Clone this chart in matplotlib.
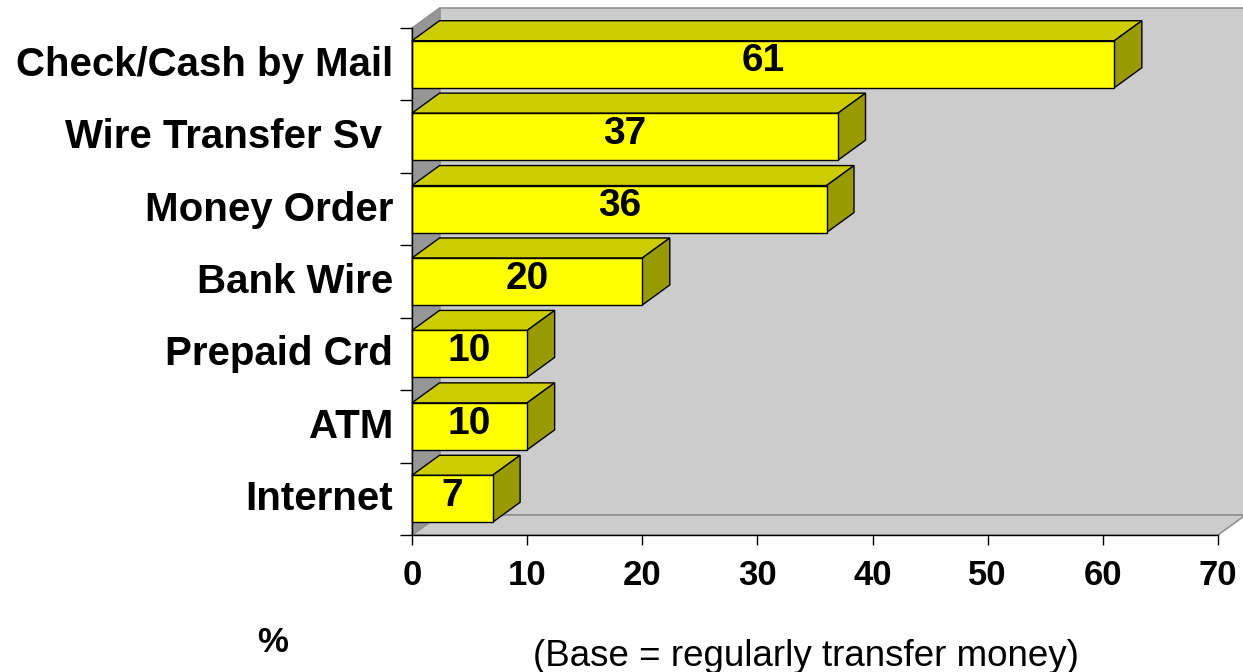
import matplotlib
matplotlib.use("Agg")
import matplotlib.pyplot as plt
from matplotlib.patches import Polygon, Rectangle
from matplotlib.transforms import ScaledTranslation

categories = ["Check/Cash by Mail", "Wire Transfer Sv ", "Money Order", "Bank Wire",
              "Prepaid Crd", "ATM", "Internet"]
values = [61, 37, 36, 20, 10, 10, 7]
xticks = [0, 10, 20, 30, 40, 50, 60, 70]

plt.rcParams['font.family'] = ['Liberation Sans', 'DejaVu Sans']

W, H, DPI = 12.43, 6.72, 100
fig = plt.figure(figsize=(W, H), dpi=DPI)
L, R, T, B = 412, 1218, 28, 535
ax = fig.add_axes([L / 1243, (672 - B) / 672, (R - L) / 1243, (B - T) / 672])
XMAX = 70
n = len(categories)
ax.set_xlim(0, XMAX)
ax.set_ylim(n, 0)

px_x = (R - L) / XMAX
px_y = (B - T) / n
DX = 27.5 / px_x
DY = 20 / px_y
HH = 47 / px_y / 2

wall = '#CCCCCC'
side = '#969696'
edge_g = '#909090'

# back wall
ax.add_patch(Polygon([(DX, -DY), (XMAX + DX, -DY), (XMAX + DX, n - DY), (DX, n - DY)],
                     closed=True, facecolor=wall, edgecolor=edge_g, lw=1.2,
                     clip_on=False, zorder=1))
# floor
ax.add_patch(Polygon([(0, n), (XMAX, n), (XMAX + DX, n - DY), (DX, n - DY)],
                     closed=True, facecolor=wall, edgecolor=edge_g, lw=1.2,
                     clip_on=False, zorder=1.1))
# left side wall
ax.add_patch(Polygon([(0, 0), (DX, -DY), (DX, n - DY), (0, n)],
                     closed=True, facecolor=side, edgecolor=edge_g, lw=1.0,
                     clip_on=False, zorder=1.2))

for i, v in enumerate(values):
    yc = i + 0.5
    y0 = yc - HH
    y1 = yc + HH
    ax.add_patch(Polygon([(0, y0), (v, y0), (v + DX, y0 - DY), (DX, y0 - DY)],
                         closed=True, facecolor='#CCCC00', edgecolor='black', lw=1.0,
                         clip_on=False, zorder=3))
    ax.add_patch(Polygon([(v, y0), (v, y1), (v + DX, y1 - DY), (v + DX, y0 - DY)],
                         closed=True, facecolor='#999900', edgecolor='black', lw=1.0,
                         clip_on=False, zorder=3))
    ax.add_patch(Rectangle((0, y0), v, y1 - y0, facecolor='#FFFF00', edgecolor='black',
                           lw=1.0, clip_on=False, zorder=4))
    ax.annotate(str(v), xy=(v / 2, yc), xytext=(0, 2), textcoords='offset points',
                ha='center', va='center', fontsize=28, fontweight='bold',
                color='black', zorder=5)

ax.set_facecolor('none')
for s in ['top', 'right']:
    ax.spines[s].set_visible(False)
for s in ['left', 'bottom']:
    ax.spines[s].set_color('black')
    ax.spines[s].set_linewidth(1.0)
    ax.spines[s].set_zorder(6)

ax.set_yticks([i + 0.5 for i in range(n)])
ax.set_yticklabels(categories, fontsize=29, fontweight='bold')
ax.set_yticks(range(n + 1), minor=True)
ax.tick_params(axis='y', which='major', length=0, pad=13.5)
ax.tick_params(axis='y', which='minor', length=9, width=1.0, color='black')
for lab in ax.get_yticklabels():
    lab.set_transform(lab.get_transform() + ScaledTranslation(0, 2.5 / 72, fig.dpi_scale_trans))

ax.set_xticks(xticks)
ax.set_xticklabels([str(t) for t in xticks], fontsize=25, fontweight='bold')
ax.tick_params(axis='x', which='major', length=7.5, width=1.0, pad=10, color='black')

fig.text(273 / 1243, 1 - 643 / 672, "%", ha='center', va='center', fontsize=25,
         fontweight='bold')
fig.text(806 / 1243, 1 - 656 / 672, "(Base = regularly transfer money)", ha='center',
         va='center', fontsize=26.5)

fig.savefig('out.png', dpi=DPI, facecolor='white')
